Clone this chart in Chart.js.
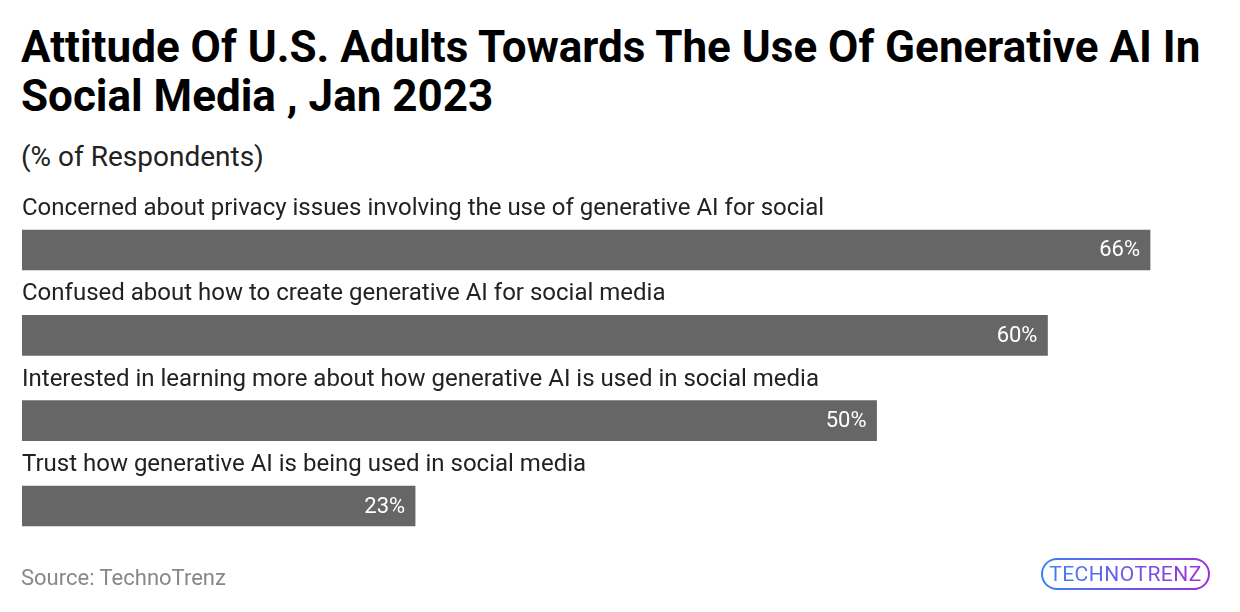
<!DOCTYPE html>
<html>
<head>
<meta charset="utf-8">
<script src="https://cdn.jsdelivr.net/npm/chart.js@4"></script>
<style>
  html, body { margin: 0; padding: 0; background: #fff; }
  body { width: 1240px; height: 612px; position: relative; overflow: hidden; font-family: Roboto, sans-serif; }
  #title { position: absolute; left: 21px; top: 23px; font-size: 44px; font-weight: bold; line-height: 49px; color: #000; white-space: nowrap; }
  #subtitle { position: absolute; left: 21px; top: 140px; font-size: 28px; color: #222; }
  #source { position: absolute; left: 21px; top: 565px; font-size: 22px; color: #888; }
  #logo { position: absolute; left: 1041px; top: 558px; width: 169px; height: 32px; border-radius: 16px;
          border: 2px solid transparent; box-sizing: border-box;
          background: linear-gradient(#fff, #fff) padding-box, linear-gradient(90deg, #3b82f6, #9b30d9) border-box;
          text-align: center; line-height: 28px; font-size: 21px; font-family: Roboto, sans-serif; letter-spacing: 0.5px; }
  #logo span { background: linear-gradient(90deg, #3b82f6, #9b30d9); -webkit-background-clip: text; background-clip: text; color: transparent; }
  canvas { position: absolute; left: 0; top: 0; }
</style>
</head>
<body>
<div id="title">Attitude Of U.S. Adults Towards The Use Of Generative AI In<br>Social Media , Jan 2023</div>
<div id="subtitle">(% of Respondents)</div>
<canvas id="chart" width="1240" height="612"></canvas>
<div id="source">Source: TechnoTrenz</div>
<div id="logo"><span>TECHNOTRENZ</span></div>
<script>
const categories = [
  "Concerned about privacy issues involving the use of generative AI for social",
  "Confused about how to create generative AI for social media",
  "Interested in learning more about how generative AI is used in social media",
  "Trust how generative AI is being used in social media"
];
const values = [66, 60, 50, 23];

const barLabels = {
  id: "barLabels",
  afterDatasetsDraw(chart) {
    const ctx = chart.ctx;
    const meta = chart.getDatasetMeta(0);
    ctx.save();
    meta.data.forEach((bar, i) => {
      ctx.textBaseline = "middle";
      ctx.fillStyle = "#222";
      ctx.textAlign = "left";
      ctx.font = "24px Roboto";
      ctx.fillText(categories[i], chart.chartArea.left, bar.y - 41);
      ctx.fillStyle = "#fff";
      ctx.textAlign = "right";
      ctx.font = "22px Roboto";
      ctx.fillText(values[i] + "%", bar.x - 10, bar.y + 1);
    });
    ctx.restore();
  }
};

new Chart(document.getElementById("chart").getContext("2d"), {
  type: "bar",
  data: {
    labels: categories,
    datasets: [{ data: values, backgroundColor: "#666666", barThickness: 40 }]
  },
  options: {
    indexAxis: "y",
    responsive: false,
    animation: false,
    layout: { padding: { left: 22, right: 21.6, top: 207.3, bottom: 63.3 } },
    scales: {
      x: { display: false, min: 0, max: 70 },
      y: { display: false }
    },
    plugins: { legend: { display: false }, tooltip: { enabled: false } }
  },
  plugins: [barLabels]
});
</script>
</body>
</html>
